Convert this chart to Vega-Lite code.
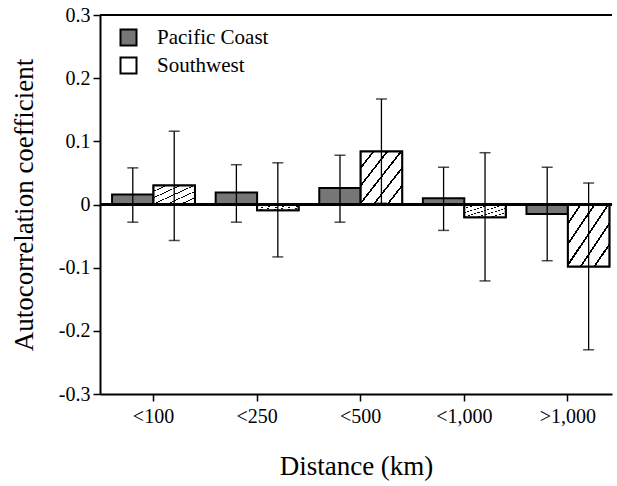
{
  "$schema": "https://vega.github.io/schema/vega-lite/v6.json",
  "width": 512,
  "height": 379,
  "autosize": "none",
  "padding": {"left": 100, "top": 15, "right": 5, "bottom": 92},
  "background": "white",
  "config": {
    "view": {"stroke": null},
    "font": "Liberation Serif",
    "axis": {
      "domainColor": "black", "domainWidth": 2, "tickColor": "black", "tickWidth": 1.5,
      "tickSize": 7, "labelFont": "Liberation Serif", "labelFontSize": 20, "labelColor": "black",
      "titleFont": "Liberation Serif", "titleFontSize": 27, "titleFontWeight": "normal", "titleColor": "black", "grid": false
    },
    "legend": {"labelFont": "Liberation Serif", "labelFontSize": 21, "labelColor": "black"}
  },
  "data": {"values": [
    {"dist": "<100", "series": "Pacific Coast", "value": 0.016, "lo": -0.028, "hi": 0.058},
    {"dist": "<100", "series": "Southwest", "value": 0.030, "lo": -0.057, "hi": 0.116},
    {"dist": "<250", "series": "Pacific Coast", "value": 0.019, "lo": -0.028, "hi": 0.063},
    {"dist": "<250", "series": "Southwest", "value": -0.009, "lo": -0.083, "hi": 0.066},
    {"dist": "<500", "series": "Pacific Coast", "value": 0.026, "lo": -0.028, "hi": 0.078},
    {"dist": "<500", "series": "Southwest", "value": 0.084, "lo": 0.002, "hi": 0.167},
    {"dist": "<1,000", "series": "Pacific Coast", "value": 0.010, "lo": -0.041, "hi": 0.059},
    {"dist": "<1,000", "series": "Southwest", "value": -0.020, "lo": -0.121, "hi": 0.082},
    {"dist": ">1,000", "series": "Pacific Coast", "value": -0.015, "lo": -0.089, "hi": 0.059},
    {"dist": ">1,000", "series": "Southwest", "value": -0.098, "lo": -0.230, "hi": 0.034}
  ]},
  "encoding": {
    "x": {
      "field": "dist", "type": "nominal",
      "sort": ["<100", "<250", "<500", "<1,000", ">1,000"],
      "scale": {"paddingInner": 0.2, "paddingOuter": 0.071, "align": 0.82},
      "axis": {"labelAngle": 0, "labelPadding": 5, "labelFont": "Liberation Serif", "titleFont": "Liberation Serif", "title": "Distance (km)", "titlePadding": 27}
    },
    "xOffset": {"field": "series", "type": "nominal", "scale": {"domain": ["Pacific Coast", "Southwest"], "paddingInner": 0, "paddingOuter": 0}}
  },
  "layer": [
    {
      "mark": {"type": "bar", "stroke": "black", "strokeWidth": 2},
      "encoding": {
        "y": {
          "field": "value", "type": "quantitative",
          "scale": {"domain": [-0.3, 0.3], "nice": false, "zero": false},
          "axis": {
            "values": [-0.3, -0.2, -0.1, 0, 0.1, 0.2, 0.3],
            "labelExpr": "abs(datum.value) < 1e-9 ? '0' : (datum.value < 0 ? '-' + format(-datum.value, '.1f') : format(datum.value, '.1f'))",
            "labelFont": "Liberation Serif", "titleFont": "Liberation Serif",
            "labelPadding": 3, "title": "Autocorrelation coefficient", "titlePadding": 20
          }
        },
        "y2": {"datum": 0},
        "fill": {
          "field": "series", "type": "nominal",
          "scale": {"domain": ["Pacific Coast", "Southwest"], "range": ["#767676", "#ffffff"]},
          "legend": {
            "title": null, "orient": "none", "legendX": 18, "legendY": 12, "padding": 0,
            "symbolType": "square", "symbolSize": 256, "symbolStrokeColor": "black", "symbolStrokeWidth": 2,
            "rowPadding": 3, "labelOffset": 18
          }
        }
      }
    },
    {
      "transform": [{"filter": "datum.series === 'Southwest'"}],
      "mark": {
        "type": "bar", "stroke": "black", "strokeWidth": 2,
        "fill": {
          "gradient": "linear", "x1": 0, "y1": 0, "x2": 1, "y2": 1,
          "stops": [
            {"offset": 0, "color": "white"}, {"offset": 0.142, "color": "white"}, {"offset": 0.142, "color": "black"}, {"offset": 0.1667, "color": "black"},
            {"offset": 0.1667, "color": "white"}, {"offset": 0.309, "color": "white"}, {"offset": 0.309, "color": "black"}, {"offset": 0.3333, "color": "black"},
            {"offset": 0.3333, "color": "white"}, {"offset": 0.475, "color": "white"}, {"offset": 0.475, "color": "black"}, {"offset": 0.5, "color": "black"},
            {"offset": 0.5, "color": "white"}, {"offset": 0.642, "color": "white"}, {"offset": 0.642, "color": "black"}, {"offset": 0.6667, "color": "black"},
            {"offset": 0.6667, "color": "white"}, {"offset": 0.809, "color": "white"}, {"offset": 0.809, "color": "black"}, {"offset": 0.8333, "color": "black"},
            {"offset": 0.8333, "color": "white"}, {"offset": 1, "color": "white"}
          ]
        }
      },
      "encoding": {
        "y": {"field": "value", "type": "quantitative"},
        "y2": {"datum": 0}
      }
    },
    {
      "mark": {"type": "rule", "color": "black", "strokeWidth": 2},
      "encoding": {
        "x": null,
        "xOffset": null,
        "y": {"datum": 0}
      }
    },
    {
      "mark": {"type": "rule", "color": "black", "strokeWidth": 2},
      "encoding": {
        "x": null,
        "xOffset": null,
        "y": {"datum": 0.3}
      }
    },
    {
      "mark": {"type": "rule", "color": "black", "strokeWidth": 1.3},
      "encoding": {
        "y": {"field": "lo", "type": "quantitative"},
        "y2": {"field": "hi"}
      }
    },
    {
      "mark": {"type": "tick", "color": "black", "thickness": 1.5, "size": 11},
      "encoding": {"y": {"field": "hi", "type": "quantitative"}}
    },
    {
      "mark": {"type": "tick", "color": "black", "thickness": 1.5, "size": 11},
      "encoding": {"y": {"field": "lo", "type": "quantitative"}}
    }
  ]
}
